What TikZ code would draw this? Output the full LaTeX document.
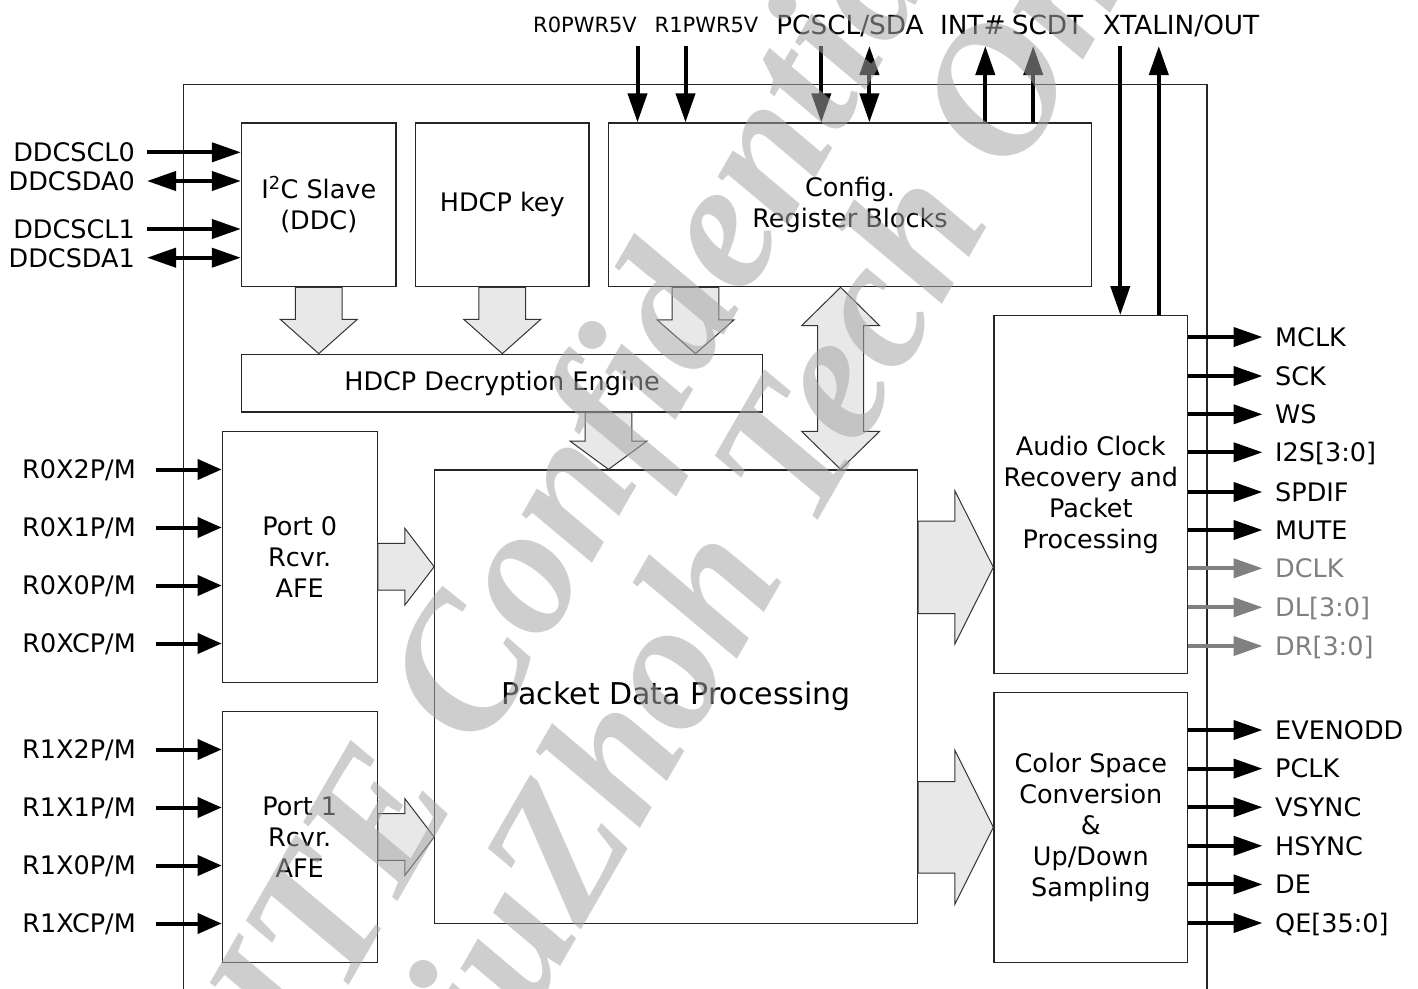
\documentclass[tikz,border=0pt]{standalone}
\usepackage{fontspec}
\setmainfont{DejaVu Sans}
\newfontfamily\wmfont{Liberation Serif}
\usetikzlibrary{arrows.meta,calc}
\definecolor{wmgray}{RGB}{166,166,166}
\definecolor{dimgray}{RGB}{128,128,128}
\definecolor{bafill}{RGB}{232,232,232}
\newcommand{\vdarrow}[5]{% base, tip, shaft half, head half, head length
  \draw[barrow] ($(#1)+(-#3,0)$) -- ($(#2)+(-#3,-#5)$) -- ($(#2)+(-#4,-#5)$) -- (#2)
    -- ($(#2)+(#4,-#5)$) -- ($(#2)+(#3,-#5)$) -- ($(#1)+(#3,0)$) -- cycle;}
\newcommand{\hrarrow}[5]{% base, tip, shaft half, head half, head length
  \draw[barrow] ($(#1)+(0,-#3)$) -- ($(#2)+(-#5,-#3)$) -- ($(#2)+(-#5,-#4)$) -- (#2)
    -- ($(#2)+(-#5,#4)$) -- ($(#2)+(-#5,#3)$) -- ($(#1)+(0,#3)$) -- cycle;}
\begin{document}
\begin{tikzpicture}[x=1pt,y=-1pt,
  box/.style={draw=black!85, line width=1.3pt, inner sep=0pt, align=center,
    font=\fontsize{25.5}{31}\selectfont},
  lab/.style={inner sep=0pt, font=\fontsize{25.5}{30}\selectfont, text height=18.6pt, text depth=0pt},
  toplab/.style={lab, font=\fontsize{26.3}{30}\selectfont, text height=19.2pt},
  smalllab/.style={lab, font=\fontsize{21}{25}\selectfont, text height=15.3pt},
  sig/.style={line width=4pt, -{Triangle[length=29pt,width=19pt]}},
  sigr/.style={line width=4pt, -{Triangle[length=24pt,width=20pt]}},
  sigd/.style={line width=4pt, {Triangle[length=29pt,width=19pt]}-{Triangle[length=29pt,width=19pt]}},
  barrow/.style={fill=bafill, draw=black!80, line width=1pt, line join=miter},
  frame/.style={draw=black!85, line width=1.3pt},
  wm/.style={text=wmgray, text opacity=0.54, inner sep=0pt,
    font=\wmfont\bfseries\itshape\fontsize{185}{185}\selectfont}
]
\useasboundingbox (0,0) rectangle (1418,988);
\fill[white] (0,0) rectangle (1418,988);

% chip outline
\draw[frame] (183.5,990) -- (183.5,84.3) -- (1206.9,84.3) -- (1206.9,990);

% blocks
\node[box, minimum width=154.5pt, minimum height=163.7pt] (i2c) at (318.75,204.85) {I\textsuperscript{2}C Slave\\(DDC)};
\node[box, minimum width=173.4pt, minimum height=163.7pt] (key) at (502.3,204.85) {HDCP key};
\node[box, minimum width=483pt, minimum height=163.7pt] (cfg) at (850,204.85) {Config.\\Register Blocks};
\node[box, minimum width=521.2pt, minimum height=57.7pt] (dec) at (502.1,383.15) {HDCP Decryption Engine};
\node[box, minimum width=154.9pt, minimum height=251pt] (p0) at (299.75,557.2) {Port 0\\Rcvr.\\AFE};
\node[box, minimum width=154.9pt, minimum height=250.6pt] (p1) at (299.75,837) {Port 1\\Rcvr.\\AFE};
\node[box, minimum width=482.7pt, minimum height=453.3pt, font=\fontsize{30}{36}\selectfont] (pkt) at (676.15,696.65) {Packet Data Processing};
\node[box, minimum width=193.6pt, minimum height=357.6pt] (aud) at (1090.8,494.5) {Audio Clock\\Recovery and\\Packet\\Processing};
\node[box, minimum width=193.6pt, minimum height=270pt] (csc) at (1090.8,827.3) {Color Space\\Conversion\\\&\\Up/Down\\Sampling};

% block arrows
\coordinate (a1t) at (i2c.south |- dec.north);
\vdarrow{i2c.south}{a1t}{23.4}{38.5}{34.3}
\coordinate (a2t) at (key.south |- dec.north);
\vdarrow{key.south}{a2t}{23.4}{38.5}{34.3}
\coordinate (a3b) at ($(cfg.south)+(-154.5,0)$);
\coordinate (a3t) at (a3b |- dec.north);
\vdarrow{a3b}{a3t}{23.4}{38.5}{33.8}
\coordinate (a4b) at ($(dec.south)+(106.4,0)$);
\coordinate (a4t) at (a4b |- pkt.north);
\vdarrow{a4b}{a4t}{23.4}{38.4}{28.2}
% bidirectional config <-> packet
\coordinate (d1) at ($(cfg.south)+(-9.4,0)$);
\coordinate (d2) at (d1 |- pkt.north);
\draw[barrow] (d1) -- ($(d1)+(39,38.3)$) -- ($(d1)+(23,38.3)$) -- ($(d2)+(23,-38)$) -- ($(d2)+(39,-38)$)
  -- (d2) -- ($(d2)+(-39,-38)$) -- ($(d2)+(-23,-38)$) -- ($(d1)+(-23,38.3)$) -- ($(d1)+(-39,38.3)$) -- cycle;
\coordinate (h1b) at ($(p0.east)+(0,9.5)$);
\coordinate (h1t) at (h1b -| pkt.west);
\hrarrow{h1b}{h1t}{23.4}{38.5}{29.4}
\coordinate (h2t) at (p1.east -| pkt.west);
\hrarrow{p1.east}{h2t}{23.4}{38.5}{29.4}
\coordinate (h3t) at ($(aud.west)+(0,72.8)$);
\coordinate (h3b) at (h3t -| pkt.east);
\hrarrow{h3b}{h3t}{46.3}{76.6}{38.5}
\coordinate (h4b) at (csc.west -| pkt.east);
\hrarrow{h4b}{csc.west}{45.8}{77}{38.5}

% left DDC signals
\node[lab, anchor=east] (ddcscl0) at (135,152.3) {DDCSCL0};
\node[lab, anchor=east] (ddcsda0) at (135,181) {DDCSDA0};
\node[lab, anchor=east] (ddcscl1) at (135,229) {DDCSCL1};
\node[lab, anchor=east] (ddcsda1) at (135,257.7) {DDCSDA1};
\draw[sig] ($(ddcscl0.east)+(12,0)$) -- (ddcscl0.east -| i2c.west);
\draw[sigd] ($(ddcsda0.east)+(12,0)$) -- (ddcsda0.east -| i2c.west);
\draw[sig] ($(ddcscl1.east)+(12,0)$) -- (ddcscl1.east -| i2c.west);
\draw[sigd] ($(ddcsda1.east)+(12,0)$) -- (ddcsda1.east -| i2c.west);

% left TMDS inputs
\foreach \n/\t/\y in {r0x2/R0X2P\slash M/469.5, r0x1/R0X1P\slash M/527.5, r0x0/R0X0P\slash M/585.5, r0xc/R0XCP\slash M/643.5}{
  \node[lab, anchor=east] (\n) at (136,\y) {\t};
  \draw[sigr] ($(\n.east)+(20,0)$) -- (\n.east -| p0.west);
}
\foreach \n/\t/\y in {r1x2/R1X2P\slash M/749.5, r1x1/R1X1P\slash M/807.5, r1x0/R1X0P\slash M/865.5, r1xc/R1XCP\slash M/923.5}{
  \node[lab, anchor=east] (\n) at (136,\y) {\t};
  \draw[sigr] ($(\n.east)+(20,0)$) -- (\n.east -| p1.west);
}

% right audio outputs
\foreach \n/\t/\y in {mclk/MCLK/337, sck/SCK/376, ws/WS/414.3, i2s/I2S[3:0]/452.3, spdif/SPDIF/492, mute/MUTE/530}{
  \node[lab, anchor=west] (\n) at (1275,\y) {\t};
  \draw[sig] (\n.west -| aud.east) -- ($(\n.west)+(-12.5,0)$);
}
\foreach \n/\t/\y in {dclk/DCLK/568.3, dl/DL[3:0]/607.3, dr/DR[3:0]/646}{
  \node[lab, anchor=west, text=dimgray] (\n) at (1275,\y) {\t};
  \draw[sig, draw=dimgray, fill=dimgray] (\n.west -| aud.east) -- ($(\n.west)+(-12.5,0)$);
}
% right video outputs
\foreach \n/\t/\y in {evenodd/EVENODD/730, pclk/PCLK/768.6, vsync/VSYNC/807.2, hsync/HSYNC/845.8, de/DE/884.4, qe/QE[35:0]/923}{
  \node[lab, anchor=west] (\n) at (1275,\y) {\t};
  \draw[sig] (\n.west -| csc.east) -- ($(\n.west)+(-12.5,0)$);
}

% top signals
\node[smalllab] (r0pwr) at (585,25) {R0PWR5V};
\node[smalllab] (r1pwr) at (706.5,25) {R1PWR5V};
\node[toplab] (pcscl) at (850,25) {PCSCL/SDA};
\node[toplab] (int) at (972.8,25) {INT\#};
\node[toplab] (scdt) at (1047.5,25) {SCDT};
\node[toplab] (xtal) at (1181,25) {XTALIN/OUT};
\coordinate (t1) at (637.5,46);
\coordinate (t2) at (685.5,46);
\coordinate (t3) at (821.3,46);
\coordinate (t4) at (869.4,46);
\coordinate (t5) at (985.3,46);
\coordinate (t6) at (1033.2,46);
\coordinate (t7) at (1120.3,46);
\coordinate (t8) at (1158.8,46);
\draw[sig] (t1) -- (t1 |- cfg.north);
\draw[sig] (t2) -- (t2 |- cfg.north);
\draw[sig] (t3) -- (t3 |- cfg.north);
\draw[sigd] (t4) -- (t4 |- cfg.north);
\draw[sig] (t5 |- cfg.north) -- (t5);
\draw[sig] (t6 |- cfg.north) -- (t6);
\draw[sig] (t7) -- (t7 |- aud.north);
\draw[sig] (t8 |- aud.north) -- (t8);

% watermark
\begin{scope}
  \clip (0,0) rectangle (1418,988);
  \node[wm, anchor=base west, rotate=60] (wm1) at (305.5,1060.9) {ITE Confidential};
  \node[wm, anchor=base west, rotate=60] (wm2) at (447.8,1161.3) {LiuZhoh Tech Only};
\end{scope}
\end{tikzpicture}
\end{document}
